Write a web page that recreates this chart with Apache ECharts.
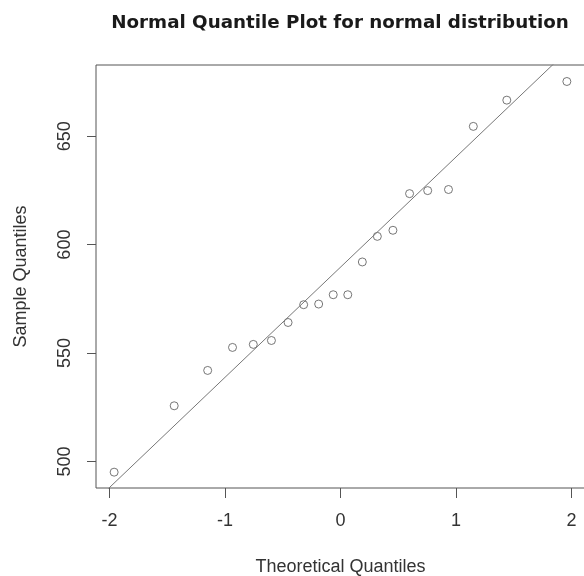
<!DOCTYPE html>
<html>
<head>
<meta charset="utf-8">
<script src="https://cdn.jsdelivr.net/npm/echarts@6/dist/echarts.min.js"></script>
<style>html,body{margin:0;padding:0;background:#fff;}#c{width:584px;height:576px;}</style>
</head>
<body>
<div id="c"></div>
<script>
var theoretical = [-1.960, -1.440, -1.150, -0.935, -0.755, -0.598, -0.454, -0.319, -0.189, -0.063,
                    0.063, 0.189, 0.319, 0.454, 0.598, 0.755, 0.935, 1.150, 1.440, 1.960];
var sample = [495.1, 525.7, 542.0, 552.6, 554.0, 555.8, 564.1, 572.3, 572.6, 576.9,
              576.9, 592.0, 603.8, 606.6, 623.5, 624.9, 625.4, 654.5, 666.6, 675.2];
var lineX = [-2.3, 2.3];
var lineY = [472.8, 706.4];
var xTicks = [-2, -1, 0, 1, 2];
var yTicks = [500, 550, 600, 650];

var pts = theoretical.map(function (x, i) { return [x, sample[i]]; });
var linePts = lineX.map(function (x, i) { return [x, lineY[i]]; });

var font = '"Liberation Sans", Arial, sans-serif';
var chart = echarts.init(document.getElementById('c'), null, { renderer: 'canvas' });
chart.setOption({
  animation: false,
  backgroundColor: '#fff',
  title: {
    text: 'Normal Quantile Plot for normal distribution',
    left: 335, top: 9, textAlign: 'center',
    textStyle: { fontFamily: '"DejaVu Sans", sans-serif', fontSize: 18.3, fontWeight: 'bold', color: '#1a1a1a' }
  },
  grid: { left: 96, top: 65, right: -1, bottom: 88, show: true, borderColor: '#555', borderWidth: 1,
    outerBoundsMode: 'none', containLabel: false },
  xAxis: {
    type: 'value', min: -2.117, max: 2.117, interval: 1,
    name: 'Theoretical Quantiles', nameLocation: 'middle', nameGap: 70,
    nameTextStyle: { fontFamily: font, fontSize: 18, color: '#333' },
    axisLine: { show: false, onZero: false },
    axisTick: { show: true, inside: false, length: 10, lineStyle: { color: '#555' }, customValues: xTicks },
    axisLabel: { fontFamily: font, fontSize: 18, color: '#333', margin: 24, customValues: xTicks,
      formatter: function (v) { return String(v); } },
    splitLine: { show: false }
  },
  yAxis: {
    type: 'value', min: 487.8, max: 682.8,
    name: 'Sample Quantiles', nameLocation: 'middle', nameGap: 66, nameRotate: 90,
    nameTextStyle: { fontFamily: font, fontSize: 18, color: '#333' },
    axisLine: { show: false, onZero: false },
    axisTick: { show: true, inside: false, length: 9, lineStyle: { color: '#555' }, customValues: yTicks },
    axisLabel: { fontFamily: font, fontSize: 18, color: '#333', margin: 22, rotate: 90, customValues: yTicks },
    splitLine: { show: false }
  },
  series: [
    {
      type: 'line', data: linePts, showSymbol: false, clip: true, silent: true,
      lineStyle: { color: '#777', width: 1 }
    },
    {
      type: 'scatter', data: pts, symbol: 'circle', symbolSize: 8,
      itemStyle: { color: 'rgba(0,0,0,0)', borderColor: '#555', borderWidth: 1 }
    }
  ]
});
</script>
</body>
</html>
